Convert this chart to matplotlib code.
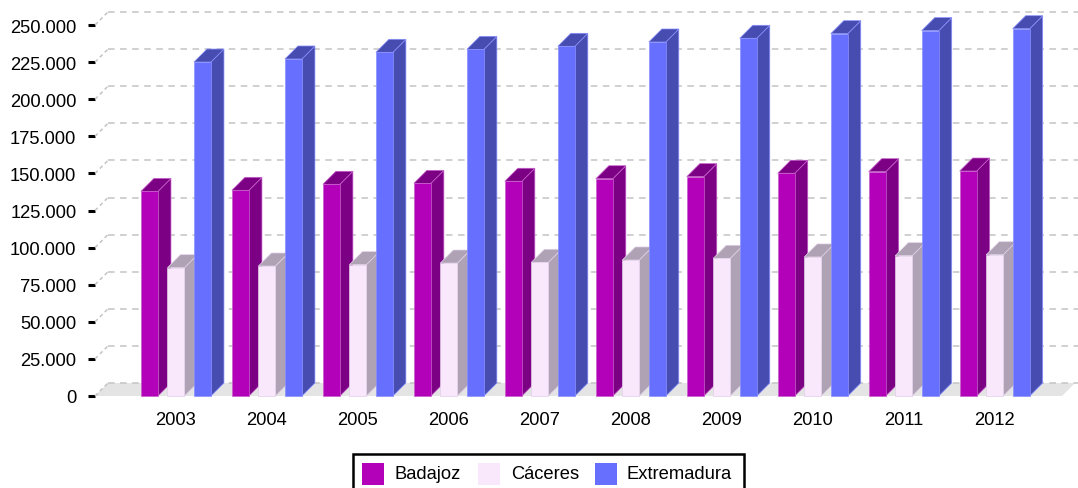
import matplotlib
matplotlib.use('Agg')
import matplotlib.pyplot as plt
from matplotlib.patches import Polygon, Rectangle
import numpy as np

# ---------------- data ----------------
years = ['2003', '2004', '2005', '2006', '2007', '2008', '2009', '2010', '2011', '2012']
badajoz = [137900, 138600, 142650, 143300, 144700, 146400, 147800, 150100, 151150, 151600]
caceres = [86450, 87600, 88500, 89600, 90100, 91650, 92800, 93700, 94550, 95200]
extremadura = [225050, 227100, 231600, 233600, 235650, 238550, 241050, 244150, 246200, 247500]
series_names = ['Badajoz', 'Cáceres', 'Extremadura']
ytick_vals = [0, 25000, 50000, 75000, 100000, 125000, 150000, 175000, 200000, 225000, 250000]
ytick_labels = ['0', '25.000', '50.000', '75.000', '100.000', '125.000', '150.000',
                '175.000', '200.000', '225.000', '250.000']

front_colors = ['#b300b9', '#f9e7fc', '#666ffe']
side_colors = ['#7c0083', '#aea2b4', '#474db0']
edge_colors = ['#c860cc', '#e2cfe8', '#8a90ff']

plt.rcParams['font.family'] = ['Liberation Sans', 'DejaVu Sans']
FS = 13.2

W, H = 1078, 489
fig = plt.figure(figsize=(W / 100, H / 100), dpi=100)
fig.patch.set_facecolor('white')

L_PX, R_PX, B_PX, T_PX = 95, 1062, 397, 26
ax = fig.add_axes([L_PX / W, (H - B_PX) / H, (R_PX - L_PX) / W, (B_PX - T_PX) / H])
x0, x1 = -0.89, 9.74
ax.set_xlim(x0, x1)
ax.set_ylim(0, 250000)
for s in ax.spines.values():
    s.set_visible(False)
ax.set_facecolor('none')

ux = (x1 - x0) / (R_PX - L_PX)
uy = 250000 / (B_PX - T_PX)
DX, DY = 13 * ux, 13 * uy

grid_col = '#c4c4c4'
dash = (0, (4.3, 3.6))

# floor
floor = Polygon([(x0, 0), (x1, 0), (x1 + DX, DY), (x0 + DX, DY)], closed=True,
                facecolor='#e4e4e4', edgecolor='none', zorder=1, clip_on=False)
ax.add_patch(floor)

# gridlines (back plane) + slanted connectors
x_far = x1 + (W - R_PX) * ux
for v in ytick_vals:
    ax.plot([x0 + DX, x_far], [v + DY, v + DY], color=grid_col, lw=1.1,
            linestyle=dash, zorder=2, clip_on=False)
    ax.plot([x0, x0 + DX], [v, v + DY], color=grid_col, lw=1.1,
            linestyle=(0, (2.5, 2.0)), zorder=2, clip_on=False)

# bars
offsets_px = [-26.5, 0, 26.5]
bw = 17 * ux
series = [badajoz, caceres, extremadura]
z = 10
for i in range(len(years)):
    for k, vals in enumerate(series):
        xc = i + offsets_px[k] * ux
        xl, xr = xc - bw / 2, xc + bw / 2
        v = vals[i]
        side = Polygon([(xr, 0), (xr + DX, DY), (xr + DX, v + DY), (xr, v)], closed=True,
                       facecolor=side_colors[k], edgecolor=edge_colors[k], lw=0.5,
                       zorder=z, clip_on=False)
        top = Polygon([(xl, v), (xr, v), (xr + DX, v + DY), (xl + DX, v + DY)], closed=True,
                      facecolor=side_colors[k], edgecolor=edge_colors[k], lw=0.5,
                      zorder=z + 1, clip_on=False)
        ax.add_patch(side)
        ax.add_patch(top)
        ax.bar([xc], [v], width=bw, color=front_colors[k], edgecolor=edge_colors[k],
               linewidth=0.5, zorder=z + 2, clip_on=False)
        z += 3

# ticks
ax.set_yticks(ytick_vals)
ax.set_yticklabels(ytick_labels, fontsize=FS, color='black')
ax.tick_params(axis='y', length=5, width=2.2, color='black', pad=8.5, direction='out')
ax.set_xticks(range(len(years)))
ax.set_xticklabels(years, fontsize=FS, color='black')
ax.tick_params(axis='x', length=0, pad=11)

# legend (manual, box runs off the bottom edge)
def fx(px):
    return px / W

def fy(py):
    return (H - py) / H

box = Rectangle((fx(352.5), fy(500)), fx(744) - fx(352.5), fy(454.5) - fy(500),
                transform=fig.transFigure, facecolor='white', edgecolor='black',
                lw=1.8, zorder=50)
fig.patches.append(box)
patch_x = [362, 478, 595]
text_x = [395, 511, 627]
for k, name in enumerate(series_names):
    r = Rectangle((fx(patch_x[k]), fy(486)), 22 / W, 22 / H, transform=fig.transFigure,
                  facecolor=front_colors[k], edgecolor='none', zorder=51)
    fig.patches.append(r)
    fig.text(fx(text_x[k]), fy(475), name, fontsize=FS, color='black',
             ha='left', va='center', zorder=52)

fig.savefig('out.png', dpi=100)
